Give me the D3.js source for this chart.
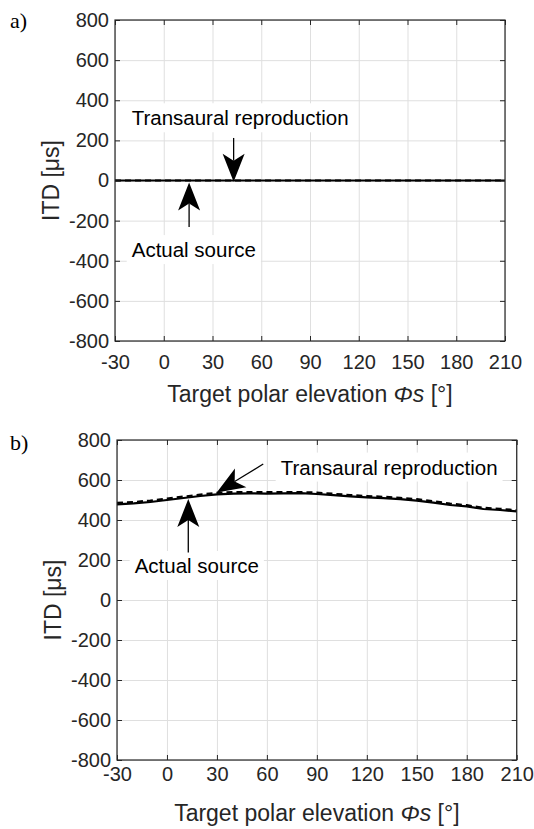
<!DOCTYPE html>
<html>
<head>
<meta charset="utf-8">
<script src="https://cdn.jsdelivr.net/npm/d3@7"></script>
<style>
  body { margin: 0; background: #fff; }
  svg text { font-family: "Liberation Sans", Arial, Helvetica, sans-serif; fill: #262626; }
</style>
</head>
<body>
<svg id="chart" width="534" height="829"></svg>
<script>
// data
var elevation = [-30, -20, -10, 0, 10, 20, 30, 40, 50, 60, 70, 80, 90, 100, 110, 120, 130, 140, 150, 160, 170, 180, 190, 200, 210];
var actualA = [0, 0, 0, 0, 0, 0, 0, 0, 0, 0, 0, 0, 0, 0, 0, 0, 0, 0, 0, 0, 0, 0, 0, 0, 0];
var transauralA = [0, 0, 0, 0, 0, 0, 0, 0, 0, 0, 0, 0, 0, 0, 0, 0, 0, 0, 0, 0, 0, 0, 0, 0, 0];
var actualB = [478, 483, 490, 500, 510, 520, 528, 532, 533, 532, 533, 534, 530, 524, 518, 513, 509, 504, 497, 487, 475, 468, 455, 450, 443];
var transauralB = [486, 490, 497, 507, 517, 527, 536, 540, 540, 539, 540, 540, 537, 531, 525, 520, 516, 511, 504, 494, 482, 474, 461, 456, 449];
var elevTicks = [-30, 0, 30, 60, 90, 120, 150, 180, 210];
var itdTicks = [-800, -600, -400, -200, 0, 200, 400, 600, 800];

// layout of the two panels
var panels = [
  {
    label: 'a)', labelX: 10, labelY: 28,
    actual: actualA, transaural: transauralA,
    left: 115, right: 505, top: 20, bottom: 341, xPad: 14,
    notes: [
      { text: 'Transaural reproduction', at: [47, 311], from: [43, 212], to: [43, -6] },
      { text: 'Actual source', at: [18.5, -346], from: [15.6, -232], to: [15.6, -10] }
    ]
  },
  {
    label: 'b)', labelX: 10, labelY: 450,
    actual: actualB, transaural: transauralB,
    left: 117, right: 516.7, top: 440, bottom: 760, xPad: 7,
    notes: [
      { text: 'Transaural reproduction', at: [133.4, 663], from: [57.8, 680], to: [29.9, 538] },
      { text: 'Actual source', at: [17.9, 171], from: [12.8, 238], to: [12.8, 505] }
    ]
  }
];

var svg = d3.select('#chart');

// MATLAB-like arrow with notched head
function drawArrow(g, x1, y1, x2, y2) {
  var headLen = 28, headWid = 22, notch = 7;
  var dx = x2 - x1, dy = y2 - y1;
  var len = Math.sqrt(dx * dx + dy * dy);
  var ux = dx / len, uy = dy / len;
  var nx = -uy, ny = ux;
  var bx = x2 - headLen * ux, by = y2 - headLen * uy;
  var mx = x2 - (headLen - notch) * ux, my = y2 - (headLen - notch) * uy;
  g.append('line')
    .attr('x1', x1).attr('y1', y1)
    .attr('x2', mx).attr('y2', my)
    .attr('stroke', '#000')
    .attr('stroke-width', 1.3);
  g.append('path')
    .attr('d', 'M' + x2 + ',' + y2 +
      'L' + (bx + nx * headWid / 2) + ',' + (by + ny * headWid / 2) +
      'L' + mx + ',' + my +
      'L' + (bx - nx * headWid / 2) + ',' + (by - ny * headWid / 2) + 'Z')
    .attr('fill', '#000');
}

var plain = function (d) { return String(d); }; // hyphen minus like the original

panels.forEach(function (p) {
  var w = p.right - p.left;
  var h = p.bottom - p.top;
  var x = d3.scaleLinear().domain([-30, 210]).range([p.left, p.right]);
  var y = d3.scaleLinear().domain([-800, 800]).range([p.bottom, p.top]);

  var g = svg.append('g');

  // grid
  g.append('g')
    .attr('transform', 'translate(0,' + p.bottom + ')')
    .call(d3.axisBottom(x).tickValues(elevTicks).tickSize(-h).tickFormat(''))
    .call(function (s) {
      s.select('.domain').remove();
      s.selectAll('line').attr('stroke', '#dfdfdf').attr('stroke-width', 1);
    });
  g.append('g')
    .attr('transform', 'translate(' + p.left + ',0)')
    .call(d3.axisLeft(y).tickValues(itdTicks).tickSize(-w).tickFormat(''))
    .call(function (s) {
      s.select('.domain').remove();
      s.selectAll('line').attr('stroke', '#dfdfdf').attr('stroke-width', 1);
    });

  // lines
  var line = function (vals) {
    return d3.line()
      .x(function (d, i) { return x(elevation[i]); })
      .y(function (d) { return y(d); })(vals);
  };
  g.append('path')
    .attr('d', line(p.transaural))
    .attr('fill', 'none')
    .attr('stroke', '#000')
    .attr('stroke-width', 2.2)
    .attr('stroke-dasharray', '6,4');
  g.append('path')
    .attr('d', line(p.actual))
    .attr('fill', 'none')
    .attr('stroke', '#000')
    .attr('stroke-width', 2.2);

  // axes with inward ticks on all sides
  var styleAxis = function (s) {
    s.select('.domain').remove();
    s.selectAll('line').attr('stroke', '#262626');
    s.attr('font-size', 20).attr('font-family', null);
    s.selectAll('text').attr('fill', '#262626');
  };
  g.append('g')
    .attr('transform', 'translate(0,' + p.bottom + ')')
    .call(d3.axisBottom(x).tickValues(elevTicks).tickSize(-5).tickPadding(p.xPad).tickFormat(plain))
    .call(styleAxis);
  g.append('g')
    .attr('transform', 'translate(0,' + p.top + ')')
    .call(d3.axisTop(x).tickValues(elevTicks).tickSize(-5).tickFormat(''))
    .call(styleAxis);
  g.append('g')
    .attr('transform', 'translate(' + p.left + ',0)')
    .call(d3.axisLeft(y).tickValues(itdTicks).tickSize(-5).tickPadding(6).tickFormat(plain))
    .call(styleAxis);
  g.append('g')
    .attr('transform', 'translate(' + p.right + ',0)')
    .call(d3.axisRight(y).tickValues(itdTicks).tickSize(-5).tickFormat(''))
    .call(styleAxis);
  g.append('rect')
    .attr('x', p.left).attr('y', p.top)
    .attr('width', w).attr('height', h)
    .attr('fill', 'none')
    .attr('stroke', '#262626')
    .attr('stroke-width', 1.2);

  // annotations
  p.notes.forEach(function (n) {
    var ng = g.append('g');
    var box = ng.append('rect').attr('fill', '#fff');
    var t = ng.append('text')
      .attr('x', x(n.at[0]))
      .attr('y', y(n.at[1]))
      .attr('dy', '0.35em')
      .attr('text-anchor', 'middle')
      .attr('font-size', 20.5)
      .style('fill', '#000')
      .text(n.text);
    var bb = t.node().getBBox();
    box.attr('x', bb.x - 5).attr('y', bb.y - 3)
      .attr('width', bb.width + 10).attr('height', bb.height + 6);
    drawArrow(ng, x(n.from[0]), y(n.from[1]), x(n.to[0]), y(n.to[1]));
  });

  // axis labels
  var xl = g.append('text')
    .attr('x', (p.left + p.right) / 2)
    .attr('y', p.bottom + 61)
    .attr('text-anchor', 'middle')
    .attr('font-size', 23);
  xl.append('tspan').text('Target polar elevation ');
  xl.append('tspan').attr('font-style', 'italic').text('Φs');
  xl.append('tspan').text(' [°]');

  g.append('text')
    .attr('transform', 'translate(' + (p.left - 64) + ',' + ((p.top + p.bottom) / 2) + ') rotate(-90)')
    .attr('dy', '0.35em')
    .attr('text-anchor', 'middle')
    .attr('font-size', 23)
    .text('ITD [μs]');

  // panel label
  svg.append('text')
    .attr('x', p.labelX)
    .attr('y', p.labelY)
    .attr('font-size', 22)
    .style('font-family', '"Liberation Serif", "DejaVu Serif", serif')
    .style('fill', '#000')
    .text(p.label);
});
</script>
</body>
</html>
